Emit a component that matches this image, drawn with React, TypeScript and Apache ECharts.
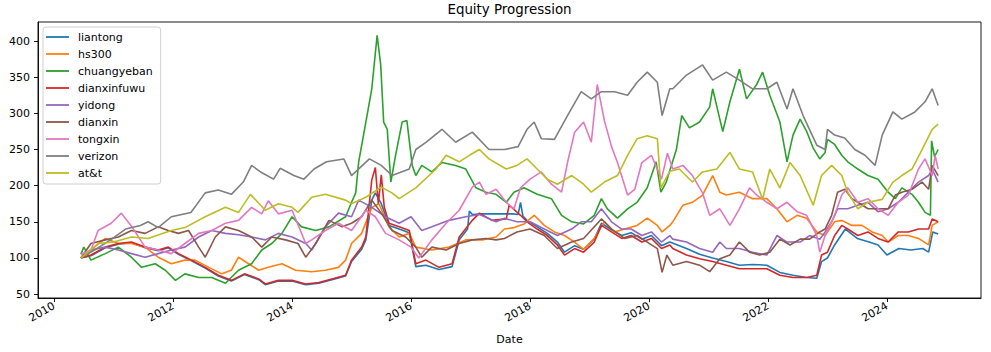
import React, { useEffect, useRef } from "react";
import * as echarts from "echarts";

// Each series: [decimal year, equity value]
const liantong = [[2010.45,100],[2010.62,103],[2010.86,114],[2011.08,119],[2011.3,121],[2011.53,114],[2011.75,110],[2011.92,114],[2012.09,105],[2012.31,96],[2012.54,86],[2012.76,75],[2012.98,68],[2013.2,77],[2013.44,70],[2013.55,63],[2013.77,68],[2014.0,68],[2014.23,63],[2014.45,65],[2014.67,70],[2014.9,75],[2015.0,95],[2015.17,112],[2015.24,125],[2015.34,180],[2015.4,190],[2015.5,175],[2015.63,145],[2015.8,140],[2015.97,135],[2016.08,88],[2016.25,90],[2016.47,84],[2016.69,88],[2016.81,125],[2016.95,140],[2016.98,165],[2017.03,160],[2017.2,161],[2017.7,161],[2017.8,160],[2017.84,177],[2017.88,158],[2017.95,152],[2018.12,143],[2018.29,134],[2018.46,122],[2018.58,108],[2018.75,117],[2018.9,112],[2019.08,126],[2019.2,148],[2019.37,139],[2019.54,131],[2019.7,135],[2019.88,126],[2020.04,131],[2020.21,117],[2020.35,122],[2020.63,113],[2020.85,105],[2021.07,100],[2021.3,95],[2021.52,90],[2021.74,91],[2021.98,90],[2022.2,80],[2022.42,76],[2022.65,73],[2022.82,72],[2022.9,95],[2023.0,100],[2023.12,118],[2023.3,140],[2023.5,127],[2023.7,122],[2023.85,118],[2024.0,104],[2024.2,113],[2024.4,111],[2024.6,113],[2024.7,108],[2024.77,136],[2024.86,133]];
const hs300 = [[2010.45,100],[2010.62,111],[2010.86,127],[2011.08,120],[2011.3,120],[2011.53,115],[2011.75,101],[2011.97,92],[2012.2,97],[2012.37,97],[2012.6,87],[2012.82,78],[2012.98,83],[2013.1,101],[2013.27,92],[2013.44,83],[2013.6,87],[2013.83,92],[2014.06,83],[2014.33,81],[2014.56,83],[2014.78,87],[2014.9,97],[2015.0,120],[2015.17,134],[2015.34,170],[2015.46,175],[2015.63,143],[2015.8,129],[2015.97,134],[2016.08,115],[2016.35,111],[2016.64,115],[2016.92,125],[2017.2,125],[2017.43,129],[2017.57,140],[2017.73,142],[2017.9,147],[2018.07,159],[2018.24,145],[2018.41,136],[2018.58,131],[2018.75,122],[2018.9,112],[2019.08,127],[2019.25,150],[2019.42,136],[2019.59,140],[2019.8,145],[2019.97,155],[2020.14,145],[2020.22,136],[2020.35,145],[2020.4,150],[2020.57,173],[2020.73,177],[2020.9,187],[2021.07,214],[2021.19,191],[2021.3,187],[2021.52,191],[2021.74,182],[2021.98,182],[2022.15,168],[2022.32,150],[2022.49,159],[2022.65,155],[2022.82,136],[2022.96,131],[2023.12,150],[2023.24,152],[2023.41,145],[2023.58,145],[2023.75,136],[2023.92,131],[2024.02,122],[2024.19,131],[2024.36,131],[2024.53,127],[2024.7,118],[2024.76,145],[2024.86,150]];
const chuangyeban = [[2010.45,105],[2010.5,115],[2010.62,97],[2010.86,106],[2011.08,115],[2011.3,101],[2011.47,87],[2011.7,92],[2011.87,83],[2012.04,69],[2012.2,78],[2012.43,73],[2012.65,73],[2012.88,65],[2013.1,83],[2013.32,92],[2013.49,111],[2013.66,120],[2013.83,134],[2014.0,157],[2014.16,143],[2014.4,138],[2014.62,143],[2014.9,157],[2015.0,177],[2015.07,190],[2015.12,233],[2015.26,297],[2015.34,334],[2015.43,408],[2015.49,367],[2015.54,288],[2015.6,278],[2015.66,205],[2015.74,242],[2015.85,288],[2015.93,290],[2016.02,228],[2016.08,214],[2016.18,228],[2016.35,219],[2016.52,232],[2016.75,228],[2016.92,223],[2017.09,197],[2017.26,191],[2017.43,188],[2017.6,177],[2017.73,191],[2017.9,197],[2018.12,188],[2018.36,182],[2018.53,159],[2018.7,150],[2018.9,147],[2019.08,159],[2019.2,182],[2019.3,168],[2019.47,155],[2019.64,168],[2019.8,177],[2019.97,197],[2020.12,233],[2020.2,191],[2020.29,205],[2020.46,250],[2020.55,297],[2020.68,280],[2020.85,288],[2021.02,309],[2021.07,334],[2021.19,292],[2021.24,275],[2021.36,316],[2021.52,361],[2021.64,320],[2021.81,340],[2021.91,357],[2022.03,325],[2022.2,288],[2022.32,233],[2022.42,270],[2022.54,292],[2022.65,275],[2022.76,252],[2022.87,237],[2022.96,246],[2023.0,264],[2023.12,257],[2023.24,242],[2023.34,233],[2023.51,223],[2023.68,214],[2023.85,209],[2024.02,191],[2024.14,182],[2024.25,197],[2024.42,188],[2024.53,177],[2024.64,163],[2024.73,159],[2024.75,262],[2024.8,240],[2024.86,250]];
const dianxinfuwu = [[2010.45,100],[2010.62,104],[2010.86,115],[2011.08,120],[2011.3,122],[2011.53,115],[2011.75,111],[2011.92,115],[2012.09,106],[2012.31,97],[2012.54,87],[2012.76,76],[2012.98,69],[2013.2,78],[2013.44,71],[2013.55,64],[2013.77,69],[2014.0,69],[2014.23,64],[2014.45,66],[2014.67,71],[2014.9,76],[2015.0,97],[2015.17,115],[2015.24,129],[2015.34,208],[2015.4,225],[2015.45,175],[2015.5,215],[2015.55,170],[2015.63,148],[2015.8,143],[2015.97,138],[2016.08,92],[2016.25,97],[2016.47,87],[2016.69,92],[2016.81,129],[2017.03,152],[2017.15,162],[2017.36,152],[2017.6,154],[2017.65,173],[2017.84,159],[2017.95,150],[2018.12,140],[2018.29,131],[2018.46,118],[2018.58,104],[2018.75,113],[2018.9,108],[2019.08,122],[2019.2,145],[2019.37,136],[2019.54,127],[2019.7,131],[2019.88,122],[2020.04,127],[2020.21,113],[2020.35,118],[2020.4,113],[2020.63,104],[2020.85,99],[2021.07,95],[2021.3,90],[2021.52,85],[2021.74,85],[2021.98,85],[2022.2,76],[2022.42,73],[2022.65,73],[2022.82,76],[2022.9,104],[2023.0,108],[2023.12,131],[2023.24,145],[2023.34,140],[2023.51,131],[2023.68,136],[2023.85,127],[2024.02,122],[2024.19,136],[2024.36,136],[2024.53,140],[2024.7,140],[2024.76,154],[2024.86,150]];
const yidong = [[2010.45,100],[2010.62,111],[2010.86,115],[2011.08,111],[2011.3,106],[2011.53,101],[2011.75,106],[2011.97,111],[2012.2,115],[2012.43,129],[2012.65,138],[2012.88,134],[2013.1,132],[2013.32,129],[2013.55,125],[2013.77,134],[2014.0,129],[2014.23,120],[2014.33,111],[2014.56,143],[2014.78,162],[2015.0,157],[2015.12,180],[2015.34,170],[2015.57,157],[2015.8,148],[2016.0,157],[2016.18,138],[2016.35,143],[2016.64,152],[2016.92,157],[2017.15,160],[2017.43,150],[2017.57,155],[2017.78,150],[2018.0,150],[2018.24,140],[2018.46,131],[2018.7,140],[2018.86,150],[2019.03,150],[2019.2,168],[2019.37,150],[2019.54,140],[2019.7,140],[2019.88,131],[2020.04,136],[2020.21,122],[2020.35,131],[2020.4,126],[2020.63,122],[2020.85,113],[2021.07,108],[2021.19,122],[2021.3,113],[2021.52,113],[2021.74,108],[2021.98,104],[2022.15,131],[2022.32,122],[2022.54,122],[2022.7,131],[2022.87,126],[2022.96,136],[2023.07,150],[2023.17,168],[2023.34,168],[2023.51,173],[2023.68,177],[2023.85,164],[2024.02,168],[2024.19,177],[2024.36,191],[2024.53,205],[2024.7,214],[2024.76,223],[2024.86,205]];
const dianxin = [[2010.45,100],[2010.62,120],[2010.86,125],[2011.08,129],[2011.3,138],[2011.53,134],[2011.75,143],[2011.92,138],[2012.09,134],[2012.26,138],[2012.43,115],[2012.54,101],[2012.71,129],[2012.88,143],[2013.1,138],[2013.32,129],[2013.49,115],[2013.66,129],[2013.89,125],[2014.1,120],[2014.23,101],[2014.4,120],[2014.62,152],[2014.84,143],[2015.0,148],[2015.17,157],[2015.34,180],[2015.5,162],[2015.68,138],[2015.91,129],[2016.08,115],[2016.18,101],[2016.35,115],[2016.59,111],[2016.81,120],[2017.03,125],[2017.26,127],[2017.43,125],[2017.57,127],[2017.78,136],[2018.0,140],[2018.24,131],[2018.46,113],[2018.7,122],[2018.9,127],[2019.2,154],[2019.37,140],[2019.59,127],[2019.8,131],[2019.97,122],[2020.14,113],[2020.22,80],[2020.3,104],[2020.4,90],[2020.63,95],[2020.85,90],[2021.02,81],[2021.19,99],[2021.36,104],[2021.52,122],[2021.69,108],[2021.86,104],[2022.03,108],[2022.2,126],[2022.37,118],[2022.54,126],[2022.7,126],[2022.87,136],[2022.96,140],[2023.07,159],[2023.17,191],[2023.29,195],[2023.41,182],[2023.51,177],[2023.68,168],[2023.85,168],[2024.02,168],[2024.14,187],[2024.25,191],[2024.42,195],[2024.59,205],[2024.7,195],[2024.76,228],[2024.86,214]];
const tongxin = [[2010.45,105],[2010.62,111],[2010.74,138],[2010.96,148],[2011.13,162],[2011.3,144],[2011.53,115],[2011.75,111],[2011.97,106],[2012.2,120],[2012.43,134],[2012.65,138],[2012.88,148],[2013.1,152],[2013.32,170],[2013.49,161],[2013.6,179],[2013.77,161],[2014.0,166],[2014.23,120],[2014.33,125],[2014.56,138],[2014.78,148],[2015.0,138],[2015.24,166],[2015.4,157],[2015.57,134],[2015.8,125],[2016.0,115],[2016.13,100],[2016.35,125],[2016.59,148],[2016.81,166],[2017.03,198],[2017.15,205],[2017.26,188],[2017.43,195],[2017.6,177],[2017.73,168],[2017.84,197],[2018.0,209],[2018.19,219],[2018.36,202],[2018.53,191],[2018.63,232],[2018.75,274],[2018.9,288],[2019.03,260],[2019.13,340],[2019.25,290],[2019.37,254],[2019.47,232],[2019.64,187],[2019.76,195],[2019.88,232],[2020.04,242],[2020.21,209],[2020.31,245],[2020.4,223],[2020.57,228],[2020.73,214],[2020.9,190],[2021.02,159],[2021.19,168],[2021.36,145],[2021.52,168],[2021.69,197],[2021.81,187],[2021.98,177],[2022.15,168],[2022.32,177],[2022.49,164],[2022.65,159],[2022.82,131],[2022.87,108],[2022.96,131],[2023.12,159],[2023.24,187],[2023.34,197],[2023.51,177],[2023.68,182],[2023.85,168],[2024.02,159],[2024.19,177],[2024.36,187],[2024.53,223],[2024.64,237],[2024.76,214],[2024.81,242],[2024.86,223]];
const verizon = [[2010.45,100],[2010.7,112],[2010.95,125],[2011.2,140],[2011.45,145],[2011.58,150],[2011.75,142],[2011.97,157],[2012.3,163],[2012.54,190],[2012.76,194],[2012.98,188],[2013.18,205],[2013.32,228],[2013.47,219],[2013.69,209],[2013.8,224],[2014.03,214],[2014.2,209],[2014.37,223],[2014.58,233],[2014.87,237],[2015.0,214],[2015.3,237],[2015.5,228],[2015.68,214],[2015.97,223],[2016.08,250],[2016.25,260],[2016.52,278],[2016.75,260],[2017.03,274],[2017.31,250],[2017.57,250],[2017.8,254],[2017.95,278],[2018.07,288],[2018.19,265],[2018.41,264],[2018.63,297],[2018.86,330],[2019.03,320],[2019.2,330],[2019.42,330],[2019.64,325],[2019.8,343],[2019.97,357],[2020.14,343],[2020.22,297],[2020.35,334],[2020.4,334],[2020.63,353],[2020.9,367],[2021.07,346],[2021.3,357],[2021.52,346],[2021.74,334],[2021.98,334],[2022.15,343],[2022.32,306],[2022.42,334],[2022.59,297],[2022.82,256],[2022.96,250],[2023.0,278],[2023.12,270],[2023.29,266],[2023.46,250],[2023.63,242],[2023.8,228],[2023.92,270],[2024.1,302],[2024.25,292],[2024.47,302],[2024.64,316],[2024.76,334],[2024.86,311]];
const att = [[2010.45,100],[2010.74,120],[2011.0,122],[2011.3,129],[2011.58,127],[2011.97,138],[2012.2,142],[2012.54,157],[2012.88,170],[2013.1,163],[2013.3,188],[2013.55,166],[2013.77,175],[2014.0,170],[2014.1,163],[2014.33,184],[2014.56,188],[2014.9,180],[2015.0,175],[2015.24,184],[2015.5,198],[2015.68,190],[2015.8,182],[2016.08,197],[2016.42,223],[2016.59,242],[2016.81,233],[2016.98,242],[2017.15,250],[2017.31,237],[2017.6,223],[2017.78,228],[2017.95,237],[2018.12,223],[2018.29,209],[2018.46,202],[2018.7,214],[2018.9,202],[2019.03,191],[2019.25,205],[2019.47,214],[2019.64,242],[2019.8,265],[2019.97,269],[2020.14,265],[2020.2,197],[2020.35,220],[2020.51,223],[2020.73,205],[2020.9,219],[2021.14,223],[2021.36,246],[2021.52,223],[2021.74,219],[2021.91,181],[2022.03,223],[2022.2,197],[2022.37,232],[2022.54,214],[2022.76,173],[2022.9,214],[2023.07,228],[2023.24,214],[2023.34,191],[2023.51,168],[2023.68,177],[2023.92,181],[2024.1,205],[2024.25,214],[2024.42,223],[2024.59,250],[2024.76,278],[2024.86,285]];

const seriesNames = ["liantong","hs300","chuangyeban","dianxinfuwu","yidong","dianxin","tongxin","verizon","at&t"];
const seriesData = [liantong,hs300,chuangyeban,dianxinfuwu,yidong,dianxin,tongxin,verizon,att];
const colors = ["#1f77b4","#ff7f0e","#2ca02c","#d62728","#9467bd","#8c564b","#e377c2","#7f7f7f","#bcbd22"];
const yTicks = [50,100,150,200,250,300,350,400];
const xTicks = [2010,2012,2014,2016,2018,2020,2022,2024];

const FONT = "DejaVu Sans";

export default function App() {
  const ref = useRef<HTMLDivElement>(null);
  useEffect(() => {
    const chart = echarts.init(ref.current!, null, { renderer: "svg" });
    const x0 = 2010.45;
    const x1 = 2024.86;
    const span = x1 - x0;
    const xMin = x0 - span * 0.05;
    const xMax = x1 + span * 0.05;
    const yMin = 44.6;
    const yMax = 426.4;

    chart.setOption({
      animation: false,
      backgroundColor: "#ffffff",
      title: {
        text: "Equity Progression",
        left: 509.5,
        top: 3,
        textAlign: "center",
        padding: 0,
        textStyle: { fontFamily: FONT, fontSize: 13.4, fontWeight: "normal", color: "#000" },
      },
      grid: {
        left: 38, right: 10, top: 22, bottom: 54,
        show: true, borderColor: "#000", borderWidth: 0.9, backgroundColor: "transparent",
      },
      legend: {
        orient: "vertical",
        left: 43,
        top: 27,
        data: seriesNames,
        icon: "rect",
        itemWidth: 23,
        itemHeight: 1.8,
        itemGap: 5,
        padding: [4, 8, 5, 3],
        backgroundColor: "rgba(255,255,255,0.8)",
        borderColor: "#d0d0d0",
        borderWidth: 1,
        borderRadius: 3,
        selectedMode: false,
        textStyle: { fontFamily: FONT, fontSize: 11, color: "#000", lineHeight: 12, padding: [0, 0, 0, 4] },
      },
      xAxis: {
        type: "value",
        min: xMin,
        max: xMax,
        name: "Date",
        nameLocation: "middle",
        nameGap: 36,
        nameTextStyle: { fontFamily: FONT, fontSize: 11, color: "#000" },
        axisLine: { show: true, lineStyle: { color: "#000", width: 0.9 } },
        axisTick: { show: true, customValues: xTicks, length: 4, lineStyle: { color: "#000", width: 0.9 } },
        axisLabel: {
          customValues: xTicks,
          formatter: (v: number) => String(Math.round(v)),
          rotate: 30,
          margin: 7,
          fontFamily: FONT,
          fontSize: 11,
          color: "#000",
        },
        splitLine: { show: false },
      },
      yAxis: {
        type: "value",
        min: yMin,
        max: yMax,
        axisLine: { show: true, lineStyle: { color: "#000", width: 0.9 } },
        axisTick: { show: true, customValues: yTicks, length: 4, lineStyle: { color: "#000", width: 0.9 } },
        axisLabel: { customValues: yTicks, margin: 8, fontFamily: FONT, fontSize: 11, color: "#000" },
        splitLine: { show: false },
      },
      series: seriesNames.map((name, i) => ({
        name,
        type: "line",
        showSymbol: false,
        symbol: "none",
        color: colors[i],
        lineStyle: { width: 1.6, color: colors[i] },
        data: seriesData[i],
      })),
    });
    return () => chart.dispose();
  }, []);
  return <div ref={ref} style={{ position: "fixed", left: 0, top: 0, width: 991, height: 352 }} />;
}
